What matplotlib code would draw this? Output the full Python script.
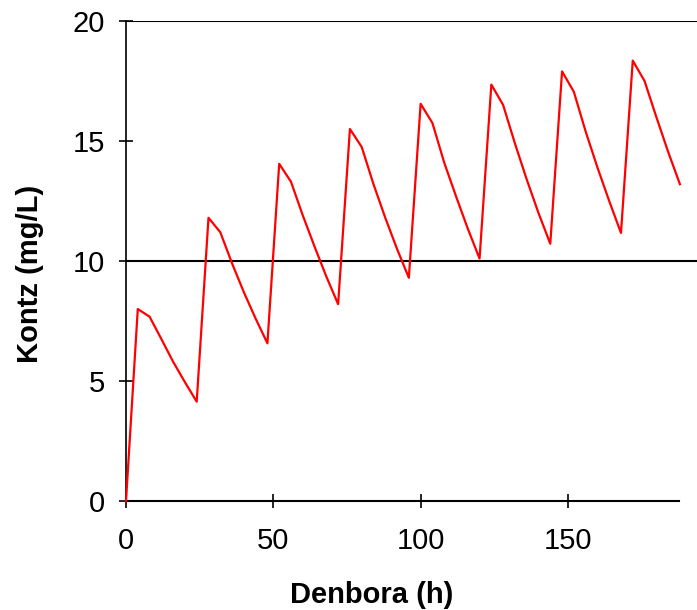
import matplotlib
matplotlib.use("Agg")
import matplotlib.pyplot as plt

# time (h) and concentration (mg/L)
time_h = [0, 4, 8, 12, 16, 20, 24,
          28, 32, 36, 40, 44, 48,
          52, 56, 60, 64, 68, 72,
          76, 80, 84, 88, 92, 96,
          100, 104, 108, 112, 116, 120,
          124, 128, 132, 136, 140, 144,
          148, 152, 156, 160, 164, 168,
          172, 176, 180, 184, 188]
conc = [0.0, 8.0, 7.68, 6.75, 5.8, 4.95, 4.14,
        11.8, 11.2, 9.9, 8.7, 7.6, 6.57,
        14.05, 13.3, 11.9, 10.6, 9.35, 8.2,
        15.5, 14.75, 13.2, 11.8, 10.5, 9.3,
        16.55, 15.75, 14.1, 12.7, 11.35, 10.1,
        17.35, 16.5, 14.9, 13.4, 12.0, 10.72,
        17.9, 17.05, 15.4, 13.9, 12.5, 11.17,
        18.35, 17.5, 16.0, 14.55, 13.2]

x_ticks = [0, 50, 100, 150]
y_ticks = [0, 5, 10, 15, 20]
grid_levels = [10, 20]

plt.rcParams["font.family"] = ["Liberation Sans", "DejaVu Sans"]

fig = plt.figure(figsize=(6.97, 6.10), dpi=100)
ax = fig.add_axes([126 / 697, 1 - 501 / 610, 1 - 126 / 697, (501 - 21) / 610])

ax.plot(time_h, conc, color="#FF0000", lw=1.6, clip_on=False, zorder=3)
for g in grid_levels:
    ax.axhline(g, color="black", lw=1.5, zorder=2)

ax.set_xlim(0, 193.8)
ax.set_ylim(0, 20)
ax.set_xticks(x_ticks)
ax.set_yticks(y_ticks)

for side in ["top", "right"]:
    ax.spines[side].set_visible(False)
ax.spines["left"].set_linewidth(1.2)
ax.spines["bottom"].set_linewidth(1.5)
ax.spines["bottom"].set_bounds(0, 187.6)

ax.tick_params(axis="both", direction="inout", length=10, width=1.2,
               labelsize=21, colors="black")
ax.tick_params(axis="x", pad=14)
ax.tick_params(axis="y", pad=10)

fig.text(372 / 697, 1 - 595 / 610, "Denbora (h)", ha="center", va="center",
         fontsize=21, fontweight="bold")
fig.text(30 / 697, 1 - 274 / 610, "Kontz (mg/L)", ha="center", va="center",
         rotation=90, fontsize=21, fontweight="bold")

fig.savefig("out.png", dpi=100)
